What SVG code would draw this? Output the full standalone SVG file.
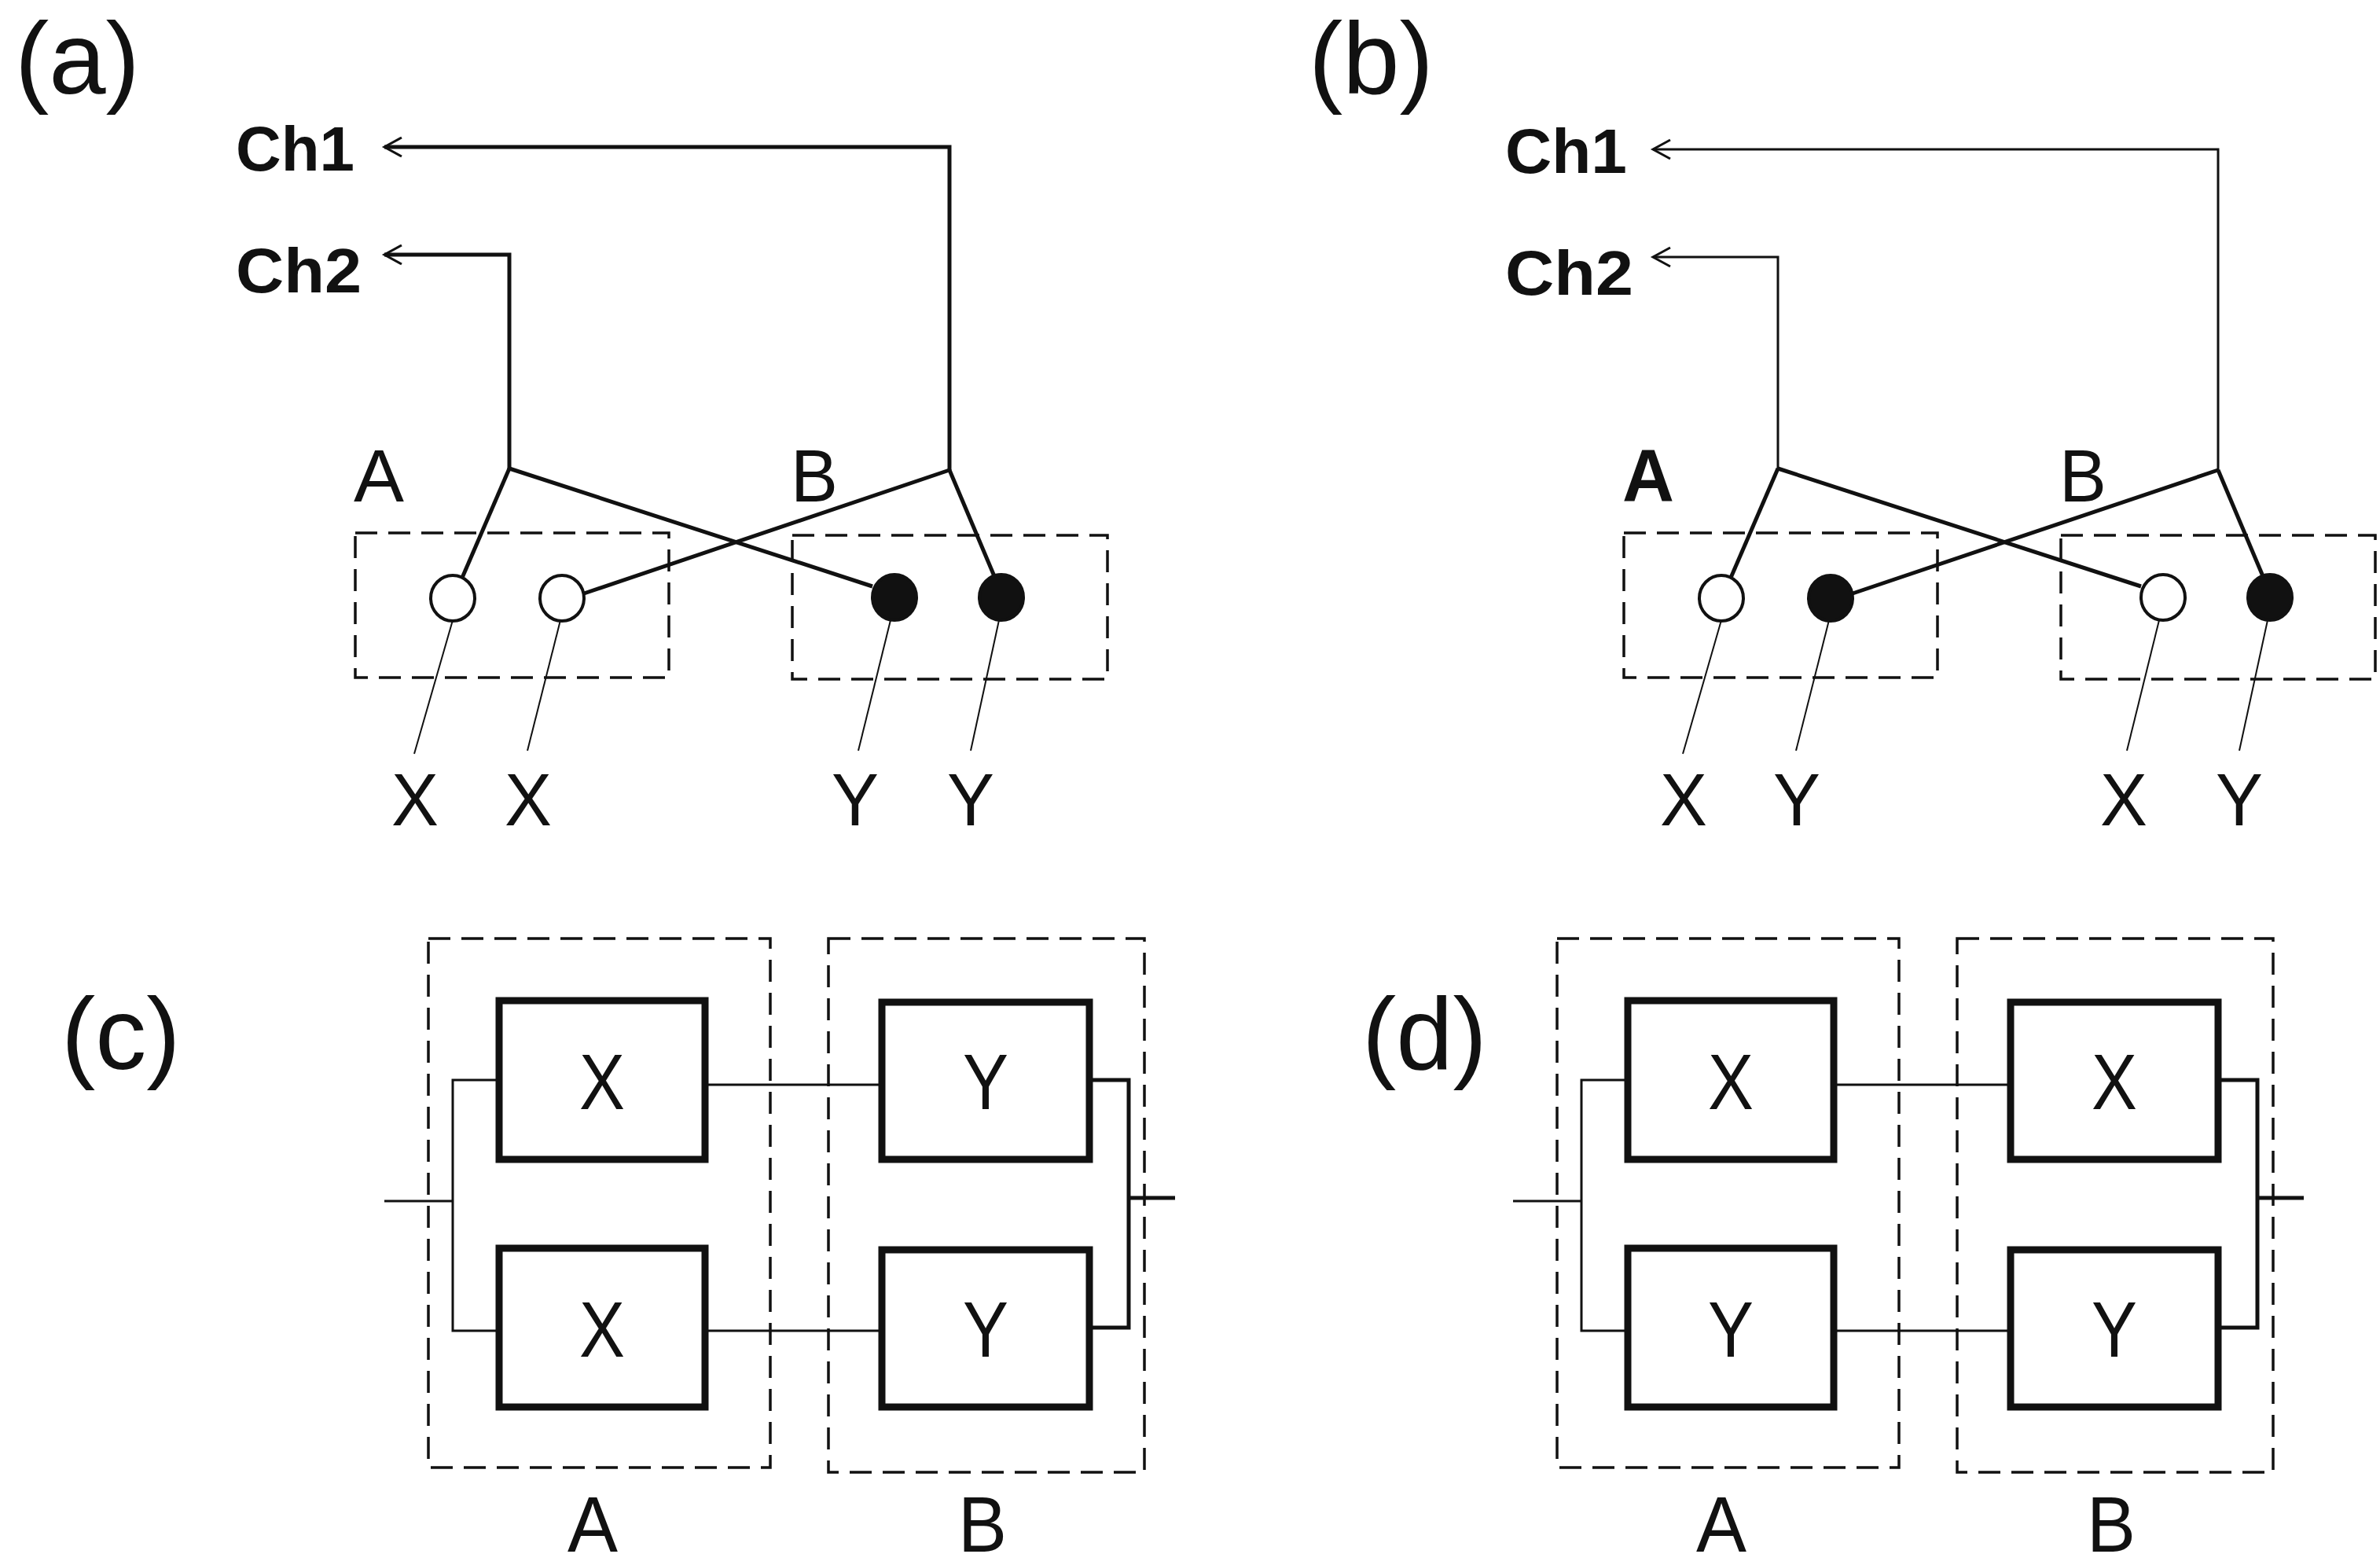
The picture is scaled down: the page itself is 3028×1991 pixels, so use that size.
<svg xmlns="http://www.w3.org/2000/svg" width="3028" height="1991" viewBox="0 0 3028 1991">
<style>
text{font-family:"Liberation Sans",Arial,sans-serif;fill:#111}
.pl{font-size:130px}
.ch{font-size:80px;font-weight:bold}
.lb{font-size:95px}
.gl{font-size:100px}
.dash{fill:none;stroke:#111;stroke-width:3.5;stroke-dasharray:28 14}
.w{fill:none;stroke:#111;stroke-width:5}
.wt{fill:none;stroke:#111;stroke-width:3}
.ld{fill:none;stroke:#111;stroke-width:2}
.oc{fill:#fff;stroke:#111;stroke-width:4}
.fc{fill:#111;stroke:#111;stroke-width:4}
.bx{fill:#fff;stroke:#111;stroke-width:9}
</style>
<defs>
<marker id="ar" markerWidth="30" markerHeight="30" refX="26" refY="15" orient="auto" markerUnits="userSpaceOnUse">
<path d="M4,3 L26,15 L4,27" fill="none" stroke="#111" stroke-width="3"/>
</marker>
</defs>
<rect width="3028" height="1991" fill="#fff"/>

<!-- Panel (a) -->
<g id="panel-a">
<text class="pl" x="19" y="119">(a)</text>
<g id="a-ch1"><text class="ch" x="300" y="217" textLength="151" lengthAdjust="spacingAndGlyphs">Ch1</text></g>
<g id="a-ch2"><text class="ch" x="300" y="372" textLength="160" lengthAdjust="spacingAndGlyphs">Ch2</text></g>
<g id="a-boxA"><rect class="dash" x="452" y="678" width="399" height="184"/><text class="lb" x="450" y="638" textLength="64" lengthAdjust="spacingAndGlyphs">A</text></g>
<g id="a-boxB"><rect class="dash" x="1008" y="681" width="401" height="183"/><text class="lb" x="1006" y="638" textLength="60" lengthAdjust="spacingAndGlyphs">B</text></g>
<g id="a-connectors">
<polyline class="w" points="1208,598 1208,187 489,187" marker-end="url(#ar)"/>
<polyline class="w" points="648,596 648,324 489,324" marker-end="url(#ar)"/>
<line class="w" x1="648" y1="596" x2="588" y2="735"/>
<line class="w" x1="648" y1="596" x2="1110" y2="746"/>
<line class="w" x1="1208" y1="598" x2="743" y2="755"/>
<line class="w" x1="1208" y1="598" x2="1265" y2="733"/>
<line class="ld" x1="576" y1="789" x2="527" y2="959"/>
<line class="ld" x1="713" y1="789" x2="671" y2="955"/>
<line class="ld" x1="1133" y1="789" x2="1092" y2="955"/>
<line class="ld" x1="1271" y1="789" x2="1235" y2="955"/>
</g>
<g id="a-n1"><ellipse class="oc" cx="576" cy="761" rx="28" ry="29"/></g>
<g id="a-n2"><ellipse class="oc" cx="715" cy="761" rx="28" ry="29"/></g>
<g id="a-n3"><ellipse class="fc" cx="1138" cy="760" rx="28" ry="29"/></g>
<g id="a-n4"><ellipse class="fc" cx="1274" cy="760" rx="28" ry="29"/></g>
<text class="lb" x="498" y="1050" textLength="60" lengthAdjust="spacingAndGlyphs">X</text>
<text class="lb" x="642" y="1050" textLength="60" lengthAdjust="spacingAndGlyphs">X</text>
<text class="lb" x="1058" y="1050" textLength="60" lengthAdjust="spacingAndGlyphs">Y</text>
<text class="lb" x="1205" y="1050" textLength="60" lengthAdjust="spacingAndGlyphs">Y</text>
</g>

<!-- Panel (b) -->
<g id="panel-b">
<text class="pl" x="1665" y="119">(b)</text>
<g id="b-ch1"><text class="ch" x="1915" y="220" textLength="155" lengthAdjust="spacingAndGlyphs">Ch1</text></g>
<g id="b-ch2"><text class="ch" x="1915" y="375" textLength="163" lengthAdjust="spacingAndGlyphs">Ch2</text></g>
<g id="b-boxA"><rect class="dash" x="2066" y="678" width="399" height="184"/><text class="lb" x="2064" y="638" font-weight="bold" textLength="66" lengthAdjust="spacingAndGlyphs">A</text></g>
<g id="b-boxB"><rect class="dash" x="2622" y="681" width="400" height="183"/><text class="lb" x="2620" y="638" textLength="60" lengthAdjust="spacingAndGlyphs">B</text></g>
<g id="b-connectors">
<polyline class="wt" points="2822,598 2822,190 2103,190" marker-end="url(#ar)"/>
<polyline class="wt" points="2262,596 2262,327 2103,327" marker-end="url(#ar)"/>
<line class="w" x1="2262" y1="596" x2="2202" y2="735"/>
<line class="w" x1="2262" y1="596" x2="2724" y2="746"/>
<line class="w" x1="2822" y1="598" x2="2357" y2="755"/>
<line class="w" x1="2822" y1="598" x2="2879" y2="733"/>
<line class="ld" x1="2190" y1="789" x2="2141" y2="959"/>
<line class="ld" x1="2327" y1="789" x2="2285" y2="955"/>
<line class="ld" x1="2747" y1="789" x2="2706" y2="955"/>
<line class="ld" x1="2885" y1="789" x2="2849" y2="955"/>
</g>
<g id="b-n1"><ellipse class="oc" cx="2190" cy="761" rx="28" ry="29"/></g>
<g id="b-n2"><ellipse class="fc" cx="2329" cy="761" rx="28" ry="29"/></g>
<g id="b-n3"><ellipse class="oc" cx="2752" cy="760" rx="28" ry="29"/></g>
<g id="b-n4"><ellipse class="fc" cx="2888" cy="760" rx="28" ry="29"/></g>
<text class="lb" x="2112" y="1050" textLength="60" lengthAdjust="spacingAndGlyphs">X</text>
<text class="lb" x="2256" y="1050" textLength="60" lengthAdjust="spacingAndGlyphs">Y</text>
<text class="lb" x="2672" y="1050" textLength="60" lengthAdjust="spacingAndGlyphs">X</text>
<text class="lb" x="2819" y="1050" textLength="60" lengthAdjust="spacingAndGlyphs">Y</text>
</g>

<!-- Panel (c) -->
<g id="panel-c">
<text class="pl" x="78" y="1360">(c)</text>
<g id="c-connectors">
<line class="wt" x1="489" y1="1528" x2="576" y2="1528"/>
<polyline class="wt" points="635,1374 576,1374 576,1693 635,1693"/>
<line class="wt" x1="897" y1="1380" x2="1122" y2="1380"/>
<line class="wt" x1="897" y1="1693" x2="1122" y2="1693"/>
<polyline class="w" points="1386,1374 1436,1374 1436,1689 1386,1689"/>
<line class="w" x1="1436" y1="1524" x2="1495" y2="1524"/>
</g>
<g id="c-A"><rect class="dash" x="545" y="1194" width="435" height="673"/><text class="gl" x="722" y="1974" textLength="64" lengthAdjust="spacingAndGlyphs">A</text></g>
<g id="c-B"><rect class="dash" x="1054" y="1194" width="402" height="679"/><text class="gl" x="1219" y="1974" textLength="62" lengthAdjust="spacingAndGlyphs">B</text></g>
<g id="c-x1"><rect class="bx" x="635" y="1273" width="262" height="202"/><text class="gl" x="737" y="1411" textLength="58" lengthAdjust="spacingAndGlyphs">X</text></g>
<g id="c-x2"><rect class="bx" x="635" y="1588" width="262" height="202"/><text class="gl" x="737" y="1726" textLength="58" lengthAdjust="spacingAndGlyphs">X</text></g>
<g id="c-y1"><rect class="bx" x="1122" y="1275" width="264" height="200"/><text class="gl" x="1225" y="1411" textLength="58" lengthAdjust="spacingAndGlyphs">Y</text></g>
<g id="c-y2"><rect class="bx" x="1122" y="1590" width="264" height="200"/><text class="gl" x="1225" y="1726" textLength="58" lengthAdjust="spacingAndGlyphs">Y</text></g>
</g>

<!-- Panel (d) -->
<g id="panel-d">
<text class="pl" x="1733" y="1360">(d)</text>
<g id="d-connectors">
<line class="wt" x1="1925" y1="1528" x2="2012" y2="1528"/>
<polyline class="wt" points="2071,1374 2012,1374 2012,1693 2071,1693"/>
<line class="wt" x1="2333" y1="1380" x2="2558" y2="1380"/>
<line class="wt" x1="2333" y1="1693" x2="2558" y2="1693"/>
<polyline class="w" points="2822,1374 2872,1374 2872,1689 2822,1689"/>
<line class="w" x1="2872" y1="1524" x2="2931" y2="1524"/>
</g>
<g id="d-A"><rect class="dash" x="1981" y="1194" width="435" height="673"/><text class="gl" x="2158" y="1974" textLength="64" lengthAdjust="spacingAndGlyphs">A</text></g>
<g id="d-B"><rect class="dash" x="2490" y="1194" width="402" height="679"/><text class="gl" x="2655" y="1974" textLength="62" lengthAdjust="spacingAndGlyphs">B</text></g>
<g id="d-x1"><rect class="bx" x="2071" y="1273" width="262" height="202"/><text class="gl" x="2173" y="1411" textLength="58" lengthAdjust="spacingAndGlyphs">X</text></g>
<g id="d-y1"><rect class="bx" x="2071" y="1588" width="262" height="202"/><text class="gl" x="2173" y="1726" textLength="58" lengthAdjust="spacingAndGlyphs">Y</text></g>
<g id="d-x2"><rect class="bx" x="2558" y="1275" width="264" height="200"/><text class="gl" x="2661" y="1411" textLength="58" lengthAdjust="spacingAndGlyphs">X</text></g>
<g id="d-y2"><rect class="bx" x="2558" y="1590" width="264" height="200"/><text class="gl" x="2661" y="1726" textLength="58" lengthAdjust="spacingAndGlyphs">Y</text></g>
</g>
</svg>
